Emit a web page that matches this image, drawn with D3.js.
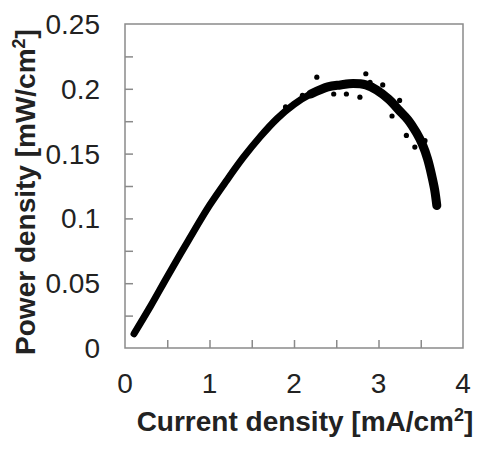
<!DOCTYPE html>
<html>
<head>
<script src="https://cdn.jsdelivr.net/npm/d3@7"></script>
<style>
  body { margin: 0; background: #fff; }
  .chart text { font-family: "Liberation Sans", Arial, sans-serif; fill: #222; }
  .tick-label { font-size: 28px; }
  .axis-title { font-size: 28px; font-weight: bold; }
</style>
</head>
<body>
<svg class="chart" width="498" height="458"></svg>
<script>
// current density [mA/cm2] and power density [mW/cm2]
var current = [0.107, 0.3, 0.5, 0.75, 1.0, 1.2, 1.4, 1.6, 1.8, 2.0, 2.2, 2.4, 2.55, 2.7, 2.85, 2.98, 3.12, 3.25, 3.35, 3.45, 3.52, 3.58, 3.63, 3.665, 3.69];
var power   = [0.011, 0.032, 0.055, 0.083, 0.110, 0.129, 0.147, 0.163, 0.177, 0.188, 0.196, 0.2015, 0.203, 0.204, 0.203, 0.199, 0.192, 0.183, 0.176, 0.166, 0.157, 0.146, 0.133, 0.122, 0.110];
// scattered points standing off the main band
var strayCurrent = [1.9, 2.27, 2.47, 2.62, 2.78, 2.85, 2.9, 3.16, 3.25, 3.33, 3.43, 3.4, 3.55, 2.1, 3.05];
var strayPower   = [0.186, 0.209, 0.196, 0.196, 0.1935, 0.2116, 0.205, 0.179, 0.191, 0.164, 0.155, 0.172, 0.160, 0.195, 0.203];

var xTicks = [0, 1, 2, 3, 4];
var yTicks = [0, 0.05, 0.1, 0.15, 0.2, 0.25];

var margin = {top: 24, left: 125, right: 35, bottom: 110};
var svg = d3.select("svg");
var width = 498 - margin.left - margin.right;
var height = 458 - margin.top - margin.bottom;

var x = d3.scaleLinear().domain([0, 4]).range([0, width]);
var y = d3.scaleLinear().domain([0, 0.25]).range([height, 0]);

var g = svg.append("g").attr("transform", "translate(" + margin.left + "," + margin.top + ")");

// frame
g.append("rect").attr("width", width).attr("height", height)
  .attr("fill", "none").attr("stroke", "#8a8a8a").attr("stroke-width", 1.5);

// inward ticks, no tick labels from the axis itself
var xAxis = d3.axisBottom(x).tickValues(d3.range(0.5, 4, 0.5)).tickSize(-8).tickFormat("");
g.append("g").attr("transform", "translate(0," + height + ")").call(xAxis)
  .call(function(s){ s.select(".domain").remove(); s.selectAll("line").attr("stroke", "#8a8a8a").attr("stroke-width", 1.5); });

var yAxis = d3.axisLeft(y).tickValues(d3.range(0.025, 0.25, 0.025)).tickSize(-8).tickFormat("");
g.append("g").call(yAxis)
  .call(function(s){ s.select(".domain").remove(); s.selectAll("line").attr("stroke", "#8a8a8a").attr("stroke-width", 1.5); });

// tick labels
g.selectAll(".xl").data(xTicks).enter().append("text")
  .attr("class", "tick-label").attr("text-anchor", "middle")
  .attr("x", function(d){ return x(d); }).attr("y", height + 45)
  .text(function(d){ return d; });

g.selectAll(".yl").data(yTicks).enter().append("text")
  .attr("class", "tick-label").attr("text-anchor", "end")
  .attr("x", -25).attr("y", function(d){ return y(d) + 10; })
  .text(function(d){ return d; });

// data
var pts = current.map(function(c, i){ return [c, power[i]]; });
var line = d3.line().curve(d3.curveCatmullRom).x(function(d){ return x(d[0]); }).y(function(d){ return y(d[1]); });

g.append("path").datum(pts).attr("d", line)
  .attr("fill", "none").attr("stroke", "#000").attr("stroke-width", 7)
  .attr("stroke-linecap", "round").attr("stroke-linejoin", "round");

g.append("path").datum(pts.filter(function(d){ return d[0] >= 2.2; })).attr("d", line)
  .attr("fill", "none").attr("stroke", "#000").attr("stroke-width", 9)
  .attr("stroke-linecap", "round").attr("stroke-linejoin", "round");

g.selectAll(".stray").data(strayCurrent).enter().append("circle")
  .attr("cx", function(d){ return x(d); })
  .attr("cy", function(d, i){ return y(strayPower[i]); })
  .attr("r", 2.6).attr("fill", "#000");

// axis titles
var xt = svg.append("text").attr("class", "axis-title").attr("text-anchor", "middle")
  .attr("x", 305).attr("y", 431);
xt.append("tspan").text("Current density [mA/cm");
xt.append("tspan").attr("dy", -10).attr("font-size", "18px").text("2");
xt.append("tspan").attr("dy", 10).text("]");

var yt = svg.append("text").attr("class", "axis-title").attr("text-anchor", "middle")
  .attr("transform", "translate(35,192) rotate(-90)");
yt.append("tspan").text("Power density [mW/cm");
yt.append("tspan").attr("dy", -10).attr("font-size", "18px").text("2");
yt.append("tspan").attr("dy", 10).text("]");
</script>
</body>
</html>
